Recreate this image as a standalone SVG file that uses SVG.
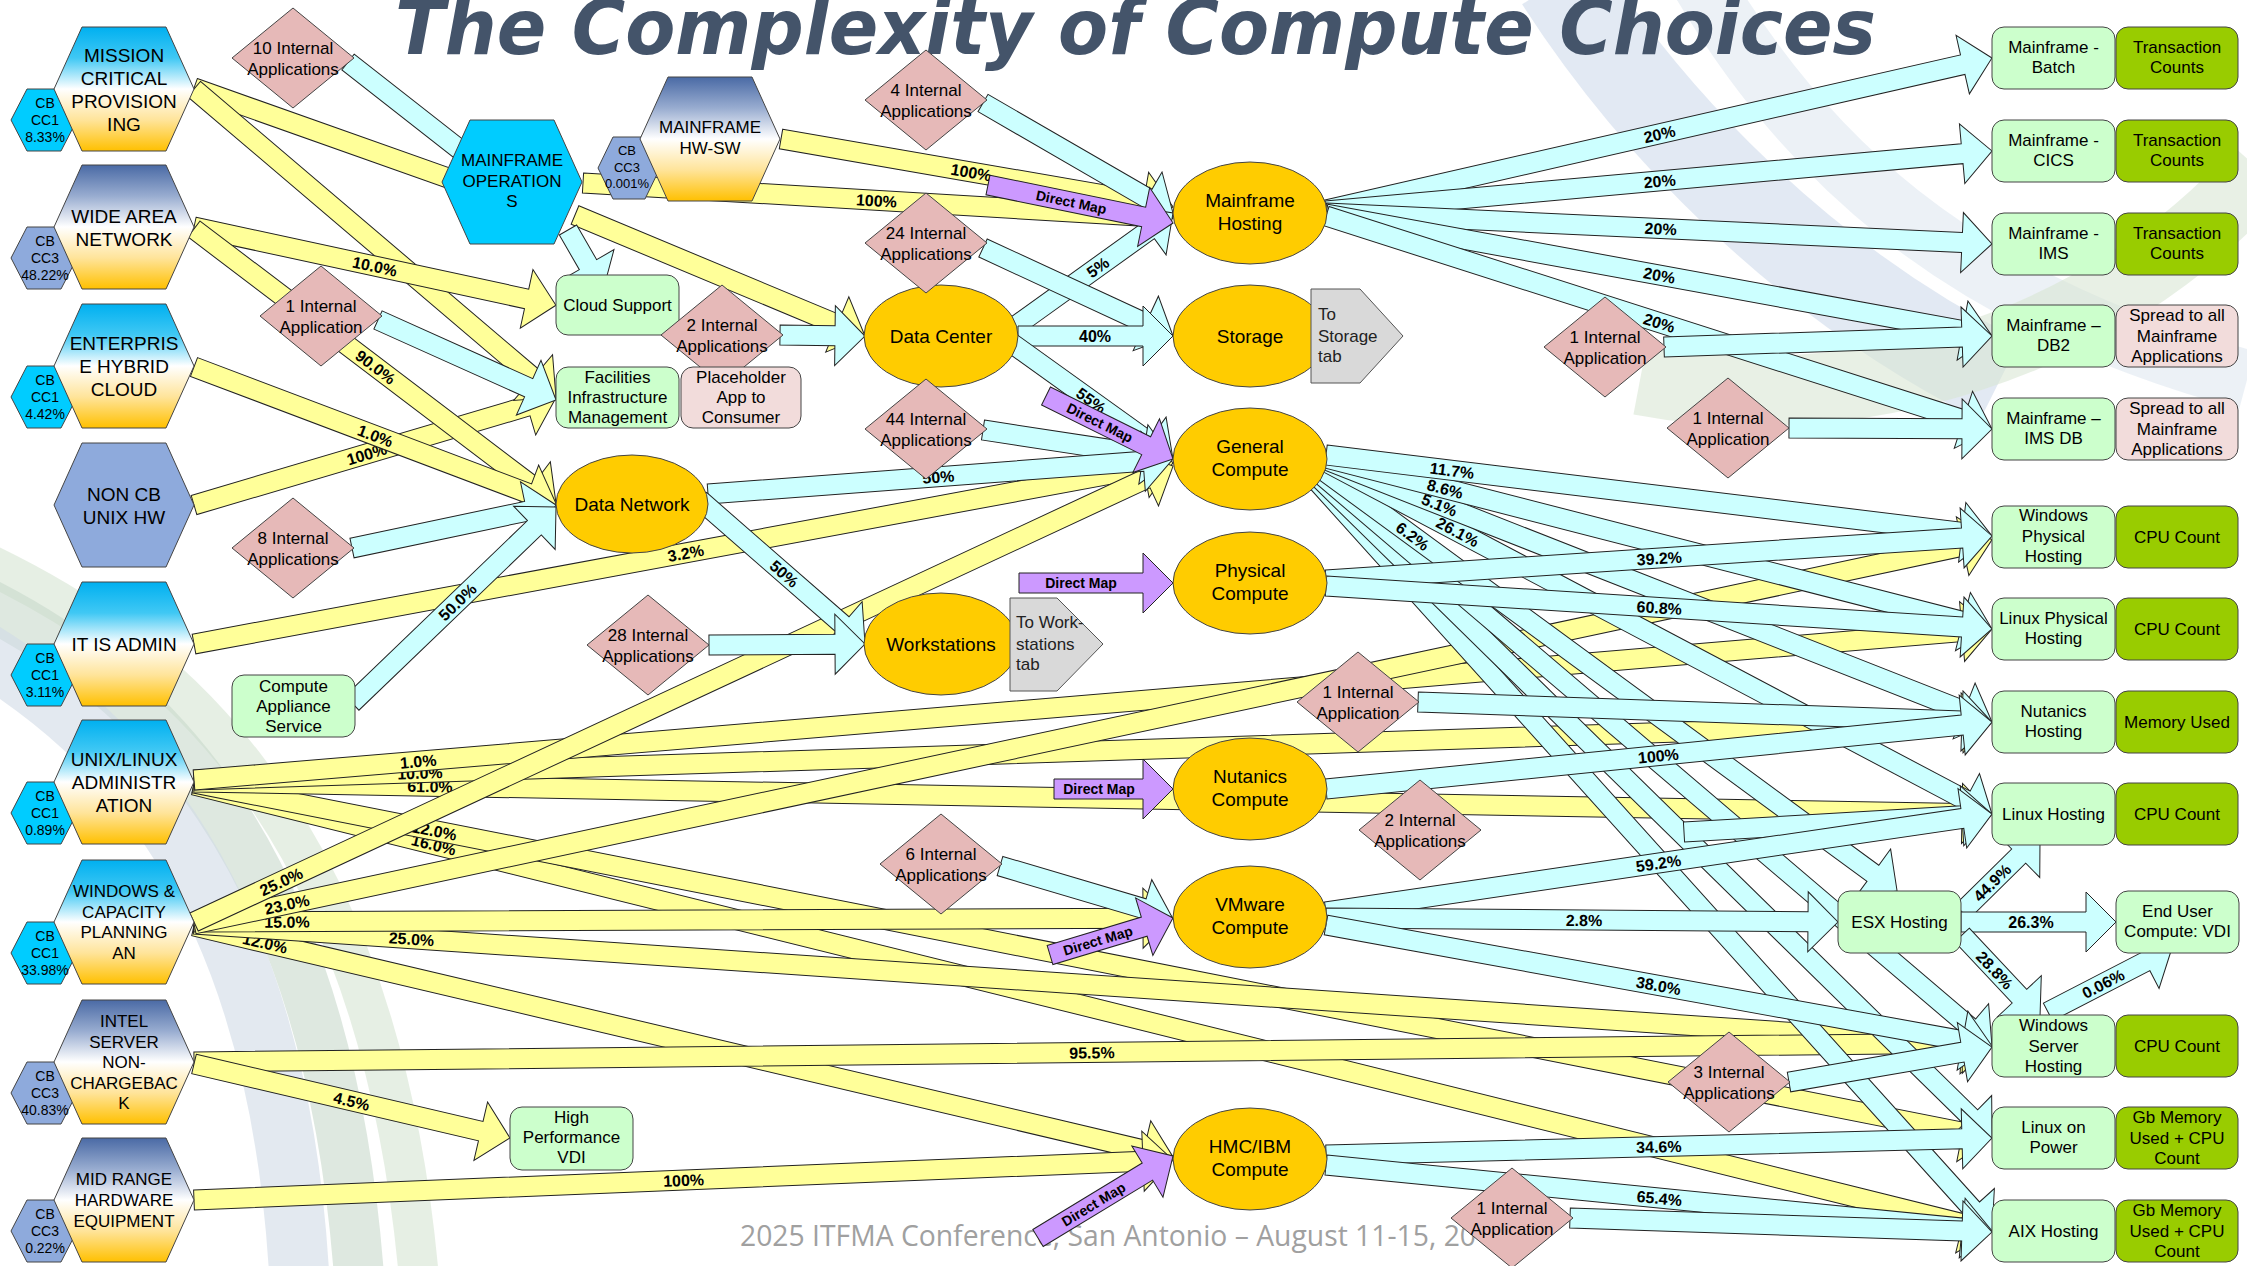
<svg xmlns="http://www.w3.org/2000/svg" width="2247" height="1266" viewBox="0 0 2247 1266">
<defs>
<style>
.y{fill:#ffff99;stroke:#222;stroke-width:1}
.c{fill:#ccffff;stroke:#222;stroke-width:1}
.p{fill:#cc99ff;stroke:#222;stroke-width:1}
text{font-family:"Liberation Sans",Arial,sans-serif;fill:#000}
.l{font-weight:bold;font-size:16px;text-anchor:middle}
.dm{font-weight:bold;font-size:14px;text-anchor:middle}
.t{font-size:17px;text-anchor:middle}
.t19{font-size:19px;text-anchor:middle}
.ts{font-size:14px;text-anchor:middle}
.tl{font-size:17px;fill:#222}
.dia{fill:#e6b9b8;stroke:#444}
.el{fill:#ffcc00;stroke:#444}
.bx{fill:#ccffcc;stroke:#444}
.bd{fill:#99cc00;stroke:#444}
.bp{fill:#f2dcdb;stroke:#444}
.tab{fill:#d9d9d9;stroke:#555}
.hx{stroke:#444}
.sw{fill:none}
</style>
<linearGradient id="gc" x1="0" y1="0" x2="0" y2="1">
<stop offset="0" stop-color="#00b0f0"/><stop offset="0.25" stop-color="#40c8f4"/><stop offset="0.5" stop-color="#ffffff"/><stop offset="0.75" stop-color="#ffe49a"/><stop offset="1" stop-color="#ffc000"/>
</linearGradient>
<linearGradient id="gs" x1="0" y1="0" x2="0" y2="1">
<stop offset="0" stop-color="#4a6aa5"/><stop offset="0.25" stop-color="#98acd0"/><stop offset="0.5" stop-color="#ffffff"/><stop offset="0.75" stop-color="#ffe49a"/><stop offset="1" stop-color="#ffc000"/>
</linearGradient>
<polygon id="hx" points="-70,0 -42,-62 42,-62 70,0 42,62 -42,62"/>
<polygon id="sh" points="-33,0 -17,-31 17,-31 33,0 17,31 -17,31"/>
<polygon id="dia" points="-61,0 0,-50 61,0 0,50"/>
</defs>
<rect width="2247" height="1266" fill="#ffffff"/>
<g id="background">
<path class="sw" d="M-20,560 C150,640 380,800 420,1290" stroke="#d6e4d2" stroke-width="40" opacity="0.6"/>
<path class="sw" d="M-20,600 C140,680 330,840 360,1290" stroke="#c8d8cc" stroke-width="50" opacity="0.6"/>
<path class="sw" d="M-20,650 C110,730 280,880 300,1290" stroke="#d0dbe6" stroke-width="60" opacity="0.6"/>
<path class="sw" d="M1560,-20 C1650,120 1800,280 2000,380" stroke="#c5d3e8" stroke-width="90" opacity="0.5"/>
<path class="sw" d="M1700,-20 C1800,150 1950,300 2247,380" stroke="#dfe7f0" stroke-width="60" opacity="0.6"/>
<path class="sw" d="M1640,380 C1850,420 2100,350 2260,170" stroke="#d9e6d3" stroke-width="70" opacity="0.6"/>
</g>
<text id="title" x="395" y="54" font-family="DejaVu Sans" font-weight="bold" font-style="italic" font-size="76" fill="#44546a" style="font-family:'DejaVu Sans',sans-serif;fill:#44546a" textLength="1481" lengthAdjust="spacingAndGlyphs">The Complexity of Compute Choices</text>
<text id="footer" x="740" y="1246" font-size="30" style="font-family:'Open Sans',sans-serif;fill:#a0a0a0" textLength="736" lengthAdjust="spacingAndGlyphs">2025 ITFMA Conference, San Antonio – August 11-15, 20</text>

<g id="connectors">
<!-- yellow -->
<g transform="translate(194 505) rotate(-16.5)"><path class="y" d="M0 -10H347.5V-30L377.5 0L347.5 30V10H0Z"/><text class="l" x="180" y="6">100%</text></g>
<g transform="translate(194 88) rotate(19.5)"><path class="y" d="M0 -10H305V-30L335 0L305 30V10H0Z"/></g>
<g transform="translate(194 89) rotate(40.4)"><path class="y" d="M0 -10H445.3V-30L475.3 0L445.3 30V10H0Z"/></g>
<g transform="translate(194 227) rotate(12.2)"><path class="y" d="M0 -10H340.3V-30L370.3 0L340.3 30V10H0Z"/><text class="l" x="185" y="6">10.0%</text></g>
<g transform="translate(194 229) rotate(37.2)"><path class="y" d="M0 -10H424.6V-30L454.6 0L424.6 30V10H0Z"/><text class="l" x="228" y="6">90.0%</text></g>
<g transform="translate(194 367) rotate(20.7)"><path class="y" d="M0 -10H357.1V-30L387.1 0L357.1 30V10H0Z"/><text class="l" x="194" y="6">1.0%</text></g>
<g transform="translate(194 644) rotate(-10.5)"><path class="y" d="M0 -10H965.8V-30L995.8 0L965.8 30V10H0Z"/><text class="l" x="500" y="6">3.2%</text></g>
<g transform="translate(194 785) rotate(13.93)"><path class="y" d="M0 -10H1822.5V-30L1852.5 0L1822.5 30V10H0Z"/><text class="l" x="247" y="6">16.0%</text></g>
<g transform="translate(194 783) rotate(11.17)"><path class="y" d="M0 -10H1802.7V-30L1832.7 0L1802.7 30V10H0Z"/><text class="l" x="245" y="6">12.0%</text></g>
<g transform="translate(194 782) rotate(1.02)"><path class="y" d="M0 -10H1768.3V-30L1798.3 0L1768.3 30V10H0Z"/><text class="l" x="236" y="6">61.0%</text></g>
<g transform="translate(194 780) rotate(-1.85)"><path class="y" d="M0 -10H1769V-30L1799 0L1769 30V10H0Z"/><text class="l" x="226" y="6">10.0%</text></g>
<g transform="translate(194 780) rotate(-4.8)"><path class="y" d="M0 -10H1774.3V-30L1804.3 0L1774.3 30V10H0Z"/><text class="l" x="225" y="6">1.0%</text></g>
<g transform="translate(194 926) rotate(13.27)"><path class="y" d="M0 -10H975.9V-30L1005.9 0L975.9 30V10H0Z"/><text class="l" x="73" y="6">12.0%</text></g>
<g transform="translate(194 924) rotate(3.88)"><path class="y" d="M0 -10H1772.1V-30L1802.1 0L1772.1 30V10H0Z"/><text class="l" x="218" y="6">25.0%</text></g>
<g transform="translate(194 922) rotate(-0.23)"><path class="y" d="M0 -10H949V-30L979 0L949 30V10H0Z"/><text class="l" x="93" y="6">15.0%</text></g>
<g transform="translate(194 924) rotate(-12.06)"><path class="y" d="M0 -10H1808.5V-30L1838.5 0L1808.5 30V10H0Z"/><text class="l" x="95" y="6">23.0%</text></g>
<g transform="translate(194 922) rotate(-24.97)"><path class="y" d="M0 -10H1050V-30L1080 0L1050 30V10H0Z"/><text class="l" x="96" y="6">25.0%</text></g>
<g transform="translate(194 1062) rotate(-0.61)"><path class="y" d="M0 -10H1768.1V-30L1798.1 0L1768.1 30V10H0Z"/><text class="l" x="898" y="6">95.5%</text></g>
<g transform="translate(194 1064) rotate(13.18)"><path class="y" d="M0 -10H294.5V-30L324.5 0L294.5 30V10H0Z"/><text class="l" x="162" y="6">4.5%</text></g>
<g transform="translate(194 1200) rotate(-2.34)"><path class="y" d="M0 -10H949.8V-30L979.8 0L949.8 30V10H0Z"/><text class="l" x="490" y="6">100%</text></g>
<g transform="translate(575 215) rotate(22.65)"><path class="y" d="M0 -10H284.2V-30L314.2 0L284.2 30V10H0Z"/></g>
<g transform="translate(583 183) rotate(3.39)"><path class="y" d="M0 -10H561V-30L591 0L561 30V10H0Z"/><text class="l" x="294" y="6">100%</text></g>
<g transform="translate(781 139) rotate(9.84)"><path class="y" d="M0 -10H367.9V-30L397.9 0L367.9 30V10H0Z"/><text class="l" x="193" y="6">100%</text></g>
<!-- cyan -->
<g transform="translate(348 62) rotate(38.1)"><path class="c" d="M0 -10H169.4V-30L199.4 0L169.4 30V10H0Z"/></g>
<g transform="translate(378 320) rotate(24.2)"><path class="c" d="M0 -10H165.2V-30L195.2 0L165.2 30V10H0Z"/></g>
<g transform="translate(568 230) rotate(60)"><path class="c" d="M0 -10H40V-30L70 0L40 30V10H0Z"/></g>
<g transform="translate(352 548) rotate(-11.9)"><path class="c" d="M0 -10H178.5V-30L208.5 0L178.5 30V10H0Z"/></g>
<g transform="translate(352 703) rotate(-43.85)"><path class="c" d="M0 -10H252.9V-30L282.9 0L252.9 30V10H0Z"/><text class="l" x="146" y="6">50.0%</text></g>
<g transform="translate(780 335) rotate(0.7)"><path class="c" d="M0 -10H55V-30L85 0L55 30V10H0Z"/></g>
<g transform="translate(983 103) rotate(30.07)"><path class="c" d="M0 -10H189.5V-30L219.5 0L189.5 30V10H0Z"/></g>
<g transform="translate(1010 330) rotate(-35.67)"><path class="c" d="M0 -10H170.6V-30L200.6 0L170.6 30V10H0Z"/><text class="l" x="108" y="6">5%</text></g>
<g transform="translate(983 248) rotate(24.85)"><path class="c" d="M0 -10H179.4V-30L209.4 0L179.4 30V10H0Z"/></g>
<g transform="translate(1018 336)"><path class="c" d="M0 -10H125V-30L155 0L125 30V10H0Z"/><text class="l" x="77" y="6">40%</text></g>
<g transform="translate(1010 342) rotate(35.67)"><path class="c" d="M0 -10H170.6V-30L200.6 0L170.6 30V10H0Z"/><text class="l" x="100" y="6">55%</text></g>
<g transform="translate(983 430) rotate(8.68)"><path class="c" d="M0 -10H162.2V-30L192.2 0L162.2 30V10H0Z"/></g>
<g transform="translate(708 494) rotate(-4.3)"><path class="c" d="M0 -10H436.3V-30L466.3 0L436.3 30V10H0Z"/><text class="l" x="231" y="6">50%</text></g>
<g transform="translate(700 500) rotate(41.1)"><path class="c" d="M0 -10H189V-30L219 0L189 30V10H0Z"/><text class="l" x="112" y="6">50%</text></g>
<g transform="translate(709 645) rotate(-0.37)"><path class="c" d="M0 -10H126V-30L156 0L126 30V10H0Z"/></g>
<g transform="translate(1326 210) rotate(-12.86)"><path class="c" d="M0 -10H653.1V-30L683.1 0L653.1 30V10H0Z"/><text class="l" x="342" y="6">20%</text></g>
<g transform="translate(1326 211) rotate(-5.15)"><path class="c" d="M0 -10H638.7V-30L668.7 0L638.7 30V10H0Z"/><text class="l" x="335" y="6">20%</text></g>
<g transform="translate(1326 213) rotate(2.66)"><path class="c" d="M0 -10H636.7V-30L666.7 0L636.7 30V10H0Z"/><text class="l" x="335" y="6">20%</text></g>
<g transform="translate(1326 214) rotate(10.38)"><path class="c" d="M0 -10H647.1V-30L677.1 0L647.1 30V10H0Z"/><text class="l" x="339" y="6">20%</text></g>
<g transform="translate(1326 216) rotate(17.73)"><path class="c" d="M0 -10H669.2V-30L699.2 0L669.2 30V10H0Z"/><text class="l" x="350" y="6">20%</text></g>
<g transform="translate(1664 347) rotate(-1.92)"><path class="c" d="M0 -10H298.2V-30L328.2 0L298.2 30V10H0Z"/></g>
<g transform="translate(1789 428) rotate(0.28)"><path class="c" d="M0 -10H173V-30L203 0L173 30V10H0Z"/></g>
<g transform="translate(1314 478) rotate(47.99)"><path class="c" d="M0 -10H983.3V-30L1013.3 0L983.3 30V10H0Z"/></g>
<g transform="translate(1316 475) rotate(44.44)"><path class="c" d="M0 -10H916.9V-30L946.9 0L916.9 30V10H0Z"/></g>
<g transform="translate(1318 472) rotate(40.42)"><path class="c" d="M0 -10H855.3V-30L885.3 0L855.3 30V10H0Z"/></g>
<g transform="translate(1320 468) rotate(36.24)"><path class="c" d="M0 -10H685.5V-30L715.5 0L685.5 30V10H0Z"/><text class="l" x="115" y="6">6.2%</text></g>
<g transform="translate(1326 462) rotate(27.86)"><path class="c" d="M0 -10H723.3V-30L753.3 0L723.3 30V10H0Z"/><text class="l" x="149" y="6">26.1%</text></g>
<g transform="translate(1326 460) rotate(21.47)"><path class="c" d="M0 -10H685.7V-30L715.7 0L685.7 30V10H0Z"/><text class="l" x="122" y="6">5.1%</text></g>
<g transform="translate(1326 458) rotate(14.4)"><path class="c" d="M0 -10H657.6V-30L687.6 0L657.6 30V10H0Z"/><text class="l" x="123" y="6">8.6%</text></g>
<g transform="translate(1326 455) rotate(6.93)"><path class="c" d="M0 -10H640.9V-30L670.9 0L640.9 30V10H0Z"/><text class="l" x="127" y="6">11.7%</text></g>
<g transform="translate(1326 580) rotate(-3.78)"><path class="c" d="M0 -10H637.5V-30L667.5 0L637.5 30V10H0Z"/><text class="l" x="334" y="6">39.2%</text></g>
<g transform="translate(1326 586) rotate(3.69)"><path class="c" d="M0 -10H637.4V-30L667.4 0L637.4 30V10H0Z"/><text class="l" x="334" y="6">60.8%</text></g>
<g transform="translate(1418 702) rotate(2.0)"><path class="c" d="M0 -10H544.3V-30L574.3 0L544.3 30V10H0Z"/></g>
<g transform="translate(1326 789) rotate(-5.74)"><path class="c" d="M0 -10H639.4V-30L669.4 0L639.4 30V10H0Z"/><text class="l" x="334" y="6">100%</text></g>
<g transform="translate(1684 832) rotate(-3.34)"><path class="c" d="M0 -10H278.5V-30L308.5 0L278.5 30V10H0Z"/></g>
<g transform="translate(1326 912) rotate(-8.37)"><path class="c" d="M0 -10H643.2V-30L673.2 0L643.2 30V10H0Z"/><text class="l" x="336" y="6">59.2%</text></g>
<g transform="translate(1326 918) rotate(0.45)"><path class="c" d="M0 -10H482V-30L512 0L482 30V10H0Z"/><text class="l" x="258" y="6">2.8%</text></g>
<g transform="translate(1326 925) rotate(10.3)"><path class="c" d="M0 -10H646.9V-30L676.9 0L646.9 30V10H0Z"/><text class="l" x="338" y="6">38.0%</text></g>
<g transform="translate(1962 912) rotate(-44.6)"><path class="c" d="M0 -10H79.6V-30L109.6 0L79.6 30V10H0Z"/><text class="l" x="42" y="6">44.9%</text></g>
<g transform="translate(1961 922)"><path class="c" d="M0 -10H125V-30L155 0L125 30V10H0Z"/><text class="l" x="70" y="6">26.3%</text></g>
<g transform="translate(1962 935) rotate(46.8)"><path class="c" d="M0 -10H83.9V-30L113.9 0L83.9 30V10H0Z"/><text class="l" x="48" y="6">28.8%</text></g>
<g transform="translate(2048 1012) rotate(-27.3)"><path class="c" d="M0 -10H109.5V-30L139.5 0L109.5 30V10H0Z"/><text class="l" x="62" y="6">0.06%</text></g>
<g transform="translate(1326 1155) rotate(-1.46)"><path class="c" d="M0 -10H636.2V-30L666.2 0L636.2 30V10H0Z"/><text class="l" x="333" y="6">34.6%</text></g>
<g transform="translate(1326 1165) rotate(5.66)"><path class="c" d="M0 -10H639.3V-30L669.3 0L639.3 30V10H0Z"/><text class="l" x="335" y="6">65.4%</text></g>
<g transform="translate(1570 1218) rotate(1.9)"><path class="c" d="M0 -10H392.2V-30L422.2 0L392.2 30V10H0Z"/></g>
<g transform="translate(1789 1082) rotate(-9.78)"><path class="c" d="M0 -10H176V-30L206 0L176 30V10H0Z"/></g>
<g transform="translate(1000 866) rotate(16.5)"><path class="c" d="M0 -10H149.4V-30L179.4 0L149.4 30V10H0Z"/></g>
<!-- purple -->
<g transform="translate(988 185) rotate(11.6)"><path class="p" d="M0 -10H158.9V-30L188.9 0L158.9 30V10H0Z"/><text class="dm" x="85" y="5">Direct Map</text></g>
<g transform="translate(1046 396) rotate(26.4)"><path class="p" d="M0 -10H111.8V-30L141.8 0L111.8 30V10H0Z"/><text class="dm" x="60" y="5">Direct Map</text></g>
<g transform="translate(1019 583)"><path class="p" d="M0 -10H124V-30L154 0L124 30V10H0Z"/><text class="dm" x="62" y="5">Direct Map</text></g>
<g transform="translate(1054 789)"><path class="p" d="M0 -10H89V-30L119 0L89 30V10H0Z"/><text class="dm" x="45" y="5">Direct Map</text></g>
<g transform="translate(1050 955) rotate(-16.74)"><path class="p" d="M0 -10H98.4V-30L128.4 0L98.4 30V10H0Z"/><text class="dm" x="50" y="5">Direct Map</text></g>
<g transform="translate(1038 1238) rotate(-31.27)"><path class="p" d="M0 -10H128V-30L158 0L128 30V10H0Z"/><text class="dm" x="65" y="5">Direct Map</text></g>
</g>

<!-- left hexagons -->
<g id="n-mission"><use href="#sh" x="44" y="120" fill="#00ccff" class="hx"/><use href="#hx" x="124" y="89" fill="url(#gc)" class="hx"/><text class="t19" x="124" y="61.5">MISSION</text><text class="t19" x="124" y="84.5">CRITICAL</text><text class="t19" x="124" y="107.5">PROVISION</text><text class="t19" x="124" y="130.5">ING</text><text class="ts" x="45" y="108">CB</text><text class="ts" x="45" y="125">CC1</text><text class="ts" x="45" y="142">8.33%</text></g>
<g id="n-wan"><use href="#sh" x="44" y="258" fill="#8eaadc" class="hx"/><use href="#hx" x="124" y="227" fill="url(#gs)" class="hx"/><text class="t19" x="124" y="222.5">WIDE AREA</text><text class="t19" x="124" y="245.5">NETWORK</text><text class="ts" x="45" y="246">CB</text><text class="ts" x="45" y="263">CC3</text><text class="ts" x="45" y="280">48.22%</text></g>
<g id="n-ehc"><use href="#sh" x="44" y="397" fill="#00ccff" class="hx"/><use href="#hx" x="124" y="366" fill="url(#gc)" class="hx"/><text class="t19" x="124" y="350">ENTERPRIS</text><text class="t19" x="124" y="373">E HYBRID</text><text class="t19" x="124" y="396">CLOUD</text><text class="ts" x="45" y="385">CB</text><text class="ts" x="45" y="402">CC1</text><text class="ts" x="45" y="419">4.42%</text></g>
<g id="n-noncb"><use href="#hx" x="124" y="505" fill="#8eaadc" class="hx"/><text class="t19" x="124" y="500.5">NON CB</text><text class="t19" x="124" y="523.5">UNIX HW</text></g>
<g id="n-itis"><use href="#sh" x="44" y="675" fill="#00ccff" class="hx"/><use href="#hx" x="124" y="644" fill="url(#gc)" class="hx"/><text class="t19" x="124" y="651">IT IS ADMIN</text><text class="ts" x="45" y="663">CB</text><text class="ts" x="45" y="680">CC1</text><text class="ts" x="45" y="697">3.11%</text></g>
<g id="n-unix"><use href="#sh" x="44" y="813" fill="#00ccff" class="hx"/><use href="#hx" x="124" y="782" fill="url(#gc)" class="hx"/><text class="t19" x="124" y="766">UNIX/LINUX</text><text class="t19" x="124" y="789">ADMINISTR</text><text class="t19" x="124" y="812">ATION</text><text class="ts" x="45" y="801">CB</text><text class="ts" x="45" y="818">CC1</text><text class="ts" x="45" y="835">0.89%</text></g>
<g id="n-windows"><use href="#sh" x="44" y="953" fill="#00ccff" class="hx"/><use href="#hx" x="124" y="922" fill="url(#gc)" class="hx"/><text class="t" x="124" y="897">WINDOWS &amp;</text><text class="t" x="124" y="917.5">CAPACITY</text><text class="t" x="124" y="938">PLANNING</text><text class="t" x="124" y="958.5">AN</text><text class="ts" x="45" y="941">CB</text><text class="ts" x="45" y="958">CC1</text><text class="ts" x="45" y="975">33.98%</text></g>
<g id="n-intel"><use href="#sh" x="44" y="1093" fill="#8eaadc" class="hx"/><use href="#hx" x="124" y="1062" fill="url(#gs)" class="hx"/><text class="t" x="124" y="1027">INTEL</text><text class="t" x="124" y="1047.5">SERVER</text><text class="t" x="124" y="1068">NON-</text><text class="t" x="124" y="1088.5">CHARGEBAC</text><text class="t" x="124" y="1109">K</text><text class="ts" x="45" y="1081">CB</text><text class="ts" x="45" y="1098">CC3</text><text class="ts" x="45" y="1115">40.83%</text></g>
<g id="n-midrange"><use href="#sh" x="44" y="1231" fill="#8eaadc" class="hx"/><use href="#hx" x="124" y="1200" fill="url(#gs)" class="hx"/><text class="t" x="124" y="1185">MID RANGE</text><text class="t" x="124" y="1206">HARDWARE</text><text class="t" x="124" y="1227">EQUIPMENT</text><text class="ts" x="45" y="1219">CB</text><text class="ts" x="45" y="1236">CC3</text><text class="ts" x="45" y="1253">0.22%</text></g>
<g id="n-mfops"><use href="#hx" x="512" y="182" fill="#00ccff" class="hx"/><text class="t" x="512" y="166">MAINFRAME</text><text class="t" x="512" y="187">OPERATION</text><text class="t" x="512" y="207">S</text></g>
<g id="n-hwsw"><polygon class="hx" fill="#8eaadc" points="598,168 613,137 645,137 660,168 645,199 613,199"/><use href="#hx" x="710" y="139" fill="url(#gs)" class="hx"/><text class="t" x="710" y="133">MAINFRAME</text><text class="t" x="710" y="154">HW-SW</text><text class="ts" x="627" y="155" style="font-size:13px">CB</text><text class="ts" x="627" y="172" style="font-size:13px">CC3</text><text class="ts" x="627" y="188" style="font-size:13px">0.001%</text></g>

<!-- ellipses -->
<g id="n-mfhost"><ellipse class="el" cx="1250" cy="213" rx="77" ry="51"/><text class="t19" x="1250" y="207">Mainframe</text><text class="t19" x="1250" y="230">Hosting</text></g>
<g id="n-storage"><ellipse class="el" cx="1250" cy="336" rx="77" ry="51"/><text class="t19" x="1250" y="343">Storage</text></g>
<g id="n-datacenter"><ellipse class="el" cx="941" cy="336" rx="77" ry="51"/><text class="t19" x="941" y="343">Data Center</text></g>
<g id="n-general"><ellipse class="el" cx="1250" cy="459" rx="77" ry="51"/><text class="t19" x="1250" y="453">General</text><text class="t19" x="1250" y="476">Compute</text></g>
<g id="n-physical"><ellipse class="el" cx="1250" cy="583" rx="77" ry="51"/><text class="t19" x="1250" y="577">Physical</text><text class="t19" x="1250" y="600">Compute</text></g>
<g id="n-workstations"><ellipse class="el" cx="941" cy="644" rx="77" ry="51"/><text class="t19" x="941" y="651">Workstations</text></g>
<g id="n-nutanics"><ellipse class="el" cx="1250" cy="789" rx="77" ry="51"/><text class="t19" x="1250" y="783">Nutanics</text><text class="t19" x="1250" y="806">Compute</text></g>
<g id="n-vmware"><ellipse class="el" cx="1250" cy="917" rx="77" ry="51"/><text class="t19" x="1250" y="911">VMware</text><text class="t19" x="1250" y="934">Compute</text></g>
<g id="n-hmc"><ellipse class="el" cx="1250" cy="1159" rx="77" ry="51"/><text class="t19" x="1250" y="1153">HMC/IBM</text><text class="t19" x="1250" y="1176">Compute</text></g>
<g id="n-datanetwork"><ellipse class="el" cx="632" cy="504" rx="76" ry="49"/><text class="t19" x="632" y="511">Data Network</text></g>

<!-- tabs -->
<g id="n-storagetab"><polygon class="tab" points="1311,289 1360,289 1403,336 1360,383 1311,383"/><text class="tl" x="1318" y="320">To</text><text class="tl" x="1318" y="342">Storage</text><text class="tl" x="1318" y="362">tab</text></g>
<g id="n-wstab"><polygon class="tab" points="1010,598 1057,598 1103,644 1057,691 1010,691"/><text class="tl" x="1016" y="628">To Work-</text><text class="tl" x="1016" y="650">stations</text><text class="tl" x="1016" y="670">tab</text></g>

<!-- diamonds -->
<g id="n-d10"><use href="#dia" x="293" y="58" class="dia"/><text class="t" x="293" y="54">10 Internal</text><text class="t" x="293" y="75">Applications</text></g>
<g id="n-d1a"><use href="#dia" x="321" y="316" class="dia"/><text class="t" x="321" y="312">1 Internal</text><text class="t" x="321" y="333">Application</text></g>
<g id="n-d8"><use href="#dia" x="293" y="548" class="dia"/><text class="t" x="293" y="544">8 Internal</text><text class="t" x="293" y="565">Applications</text></g>
<g id="n-d28"><use href="#dia" x="648" y="645" class="dia"/><text class="t" x="648" y="641">28 Internal</text><text class="t" x="648" y="662">Applications</text></g>
<g id="n-d4"><use href="#dia" x="926" y="100" class="dia"/><text class="t" x="926" y="96">4 Internal</text><text class="t" x="926" y="117">Applications</text></g>
<g id="n-d24"><use href="#dia" x="926" y="243" class="dia"/><text class="t" x="926" y="239">24 Internal</text><text class="t" x="926" y="260">Applications</text></g>
<g id="n-d44"><use href="#dia" x="926" y="429" class="dia"/><text class="t" x="926" y="425">44 Internal</text><text class="t" x="926" y="446">Applications</text></g>
<g id="n-d1b"><use href="#dia" x="1358" y="702" class="dia"/><text class="t" x="1358" y="698">1 Internal</text><text class="t" x="1358" y="719">Application</text></g>
<g id="n-d2b"><use href="#dia" x="1420" y="830" class="dia"/><text class="t" x="1420" y="826">2 Internal</text><text class="t" x="1420" y="847">Applications</text></g>
<g id="n-d6"><use href="#dia" x="941" y="864" class="dia"/><text class="t" x="941" y="860">6 Internal</text><text class="t" x="941" y="881">Applications</text></g>
<g id="n-d1c"><use href="#dia" x="1512" y="1218" class="dia"/><text class="t" x="1512" y="1214">1 Internal</text><text class="t" x="1512" y="1235">Application</text></g>
<g id="n-d3"><use href="#dia" x="1729" y="1082" class="dia"/><text class="t" x="1729" y="1078">3 Internal</text><text class="t" x="1729" y="1099">Applications</text></g>
<g id="n-d1d"><use href="#dia" x="1605" y="347" class="dia"/><text class="t" x="1605" y="343">1 Internal</text><text class="t" x="1605" y="364">Application</text></g>
<g id="n-d1e"><use href="#dia" x="1728" y="428" class="dia"/><text class="t" x="1728" y="424">1 Internal</text><text class="t" x="1728" y="445">Application</text></g>

<!-- left / middle boxes -->
<g id="n-cloud"><rect class="bx" x="556" y="275" width="123" height="60" rx="12"/><text class="t" x="617.5" y="311">Cloud Support</text></g>
<g id="n-d2a"><use href="#dia" x="722" y="335" class="dia"/><text class="t" x="722" y="331">2 Internal</text><text class="t" x="722" y="352">Applications</text></g>
<g id="n-facilities"><rect class="bx" x="556" y="367" width="123" height="61" rx="12"/><text class="t" x="617.5" y="383">Facilities</text><text class="t" x="617.5" y="403">Infrastructure</text><text class="t" x="617.5" y="423">Management</text></g>
<g id="n-placeholder"><rect class="bp" x="681" y="367" width="120" height="61" rx="12"/><text class="t" x="741" y="383">Placeholder</text><text class="t" x="741" y="403">App to</text><text class="t" x="741" y="423">Consumer</text></g>
<g id="n-cas"><rect class="bx" x="232" y="675" width="123" height="62" rx="12"/><text class="t" x="293.5" y="692">Compute</text><text class="t" x="293.5" y="712">Appliance</text><text class="t" x="293.5" y="732">Service</text></g>
<g id="n-hpvdi"><rect class="bx" x="510" y="1107" width="123" height="63" rx="12"/><text class="t" x="571.5" y="1123">High</text><text class="t" x="571.5" y="1143">Performance</text><text class="t" x="571.5" y="1163">VDI</text></g>

<!-- right boxes -->
<g id="n-mfbatch"><rect class="bx" x="1992" y="27" width="123" height="62" rx="12"/><text class="t" x="2053.5" y="53">Mainframe -</text><text class="t" x="2053.5" y="73">Batch</text><rect class="bd" x="2116" y="27" width="122" height="62" rx="12"/><text class="t" x="2177" y="53">Transaction</text><text class="t" x="2177" y="73">Counts</text></g>
<g id="n-mfcics"><rect class="bx" x="1992" y="120" width="123" height="62" rx="12"/><text class="t" x="2053.5" y="146">Mainframe -</text><text class="t" x="2053.5" y="166">CICS</text><rect class="bd" x="2116" y="120" width="122" height="62" rx="12"/><text class="t" x="2177" y="146">Transaction</text><text class="t" x="2177" y="166">Counts</text></g>
<g id="n-mfims"><rect class="bx" x="1992" y="213" width="123" height="62" rx="12"/><text class="t" x="2053.5" y="239">Mainframe -</text><text class="t" x="2053.5" y="259">IMS</text><rect class="bd" x="2116" y="213" width="122" height="62" rx="12"/><text class="t" x="2177" y="239">Transaction</text><text class="t" x="2177" y="259">Counts</text></g>
<g id="n-mfdb2"><rect class="bx" x="1992" y="305" width="123" height="62" rx="12"/><text class="t" x="2053.5" y="331">Mainframe –</text><text class="t" x="2053.5" y="351">DB2</text><rect class="bp" x="2116" y="305" width="122" height="62" rx="12"/><text class="t" x="2177" y="321">Spread to all</text><text class="t" x="2177" y="342">Mainframe</text><text class="t" x="2177" y="362">Applications</text></g>
<g id="n-mfimsdb"><rect class="bx" x="1992" y="398" width="123" height="62" rx="12"/><text class="t" x="2053.5" y="424">Mainframe –</text><text class="t" x="2053.5" y="444">IMS DB</text><rect class="bp" x="2116" y="398" width="122" height="62" rx="12"/><text class="t" x="2177" y="414">Spread to all</text><text class="t" x="2177" y="435">Mainframe</text><text class="t" x="2177" y="455">Applications</text></g>
<g id="n-winphys"><rect class="bx" x="1992" y="506" width="123" height="62" rx="12"/><text class="t" x="2053.5" y="521">Windows</text><text class="t" x="2053.5" y="542">Physical</text><text class="t" x="2053.5" y="562">Hosting</text><rect class="bd" x="2116" y="506" width="122" height="62" rx="12"/><text class="t" x="2177" y="543">CPU Count</text></g>
<g id="n-linphys"><rect class="bx" x="1992" y="598" width="123" height="62" rx="12"/><text class="t" x="2053.5" y="624">Linux Physical</text><text class="t" x="2053.5" y="644">Hosting</text><rect class="bd" x="2116" y="598" width="122" height="62" rx="12"/><text class="t" x="2177" y="635">CPU Count</text></g>
<g id="n-nuthost"><rect class="bx" x="1992" y="691" width="123" height="62" rx="12"/><text class="t" x="2053.5" y="717">Nutanics</text><text class="t" x="2053.5" y="737">Hosting</text><rect class="bd" x="2116" y="691" width="122" height="62" rx="12"/><text class="t" x="2177" y="728">Memory Used</text></g>
<g id="n-linhost"><rect class="bx" x="1992" y="783" width="123" height="62" rx="12"/><text class="t" x="2053.5" y="820">Linux Hosting</text><rect class="bd" x="2116" y="783" width="122" height="62" rx="12"/><text class="t" x="2177" y="820">CPU Count</text></g>
<g id="n-esx"><rect class="bx" x="1838" y="891" width="123" height="62" rx="12"/><text class="t" x="1899.5" y="928">ESX Hosting</text></g>
<g id="n-euvdi"><rect class="bx" x="2116" y="891" width="123" height="62" rx="12"/><text class="t" x="2177.5" y="917">End User</text><text class="t" x="2177.5" y="937">Compute: VDI</text></g>
<g id="n-winserver"><rect class="bx" x="1992" y="1015" width="123" height="62" rx="12"/><text class="t" x="2053.5" y="1031">Windows</text><text class="t" x="2053.5" y="1052">Server</text><text class="t" x="2053.5" y="1072">Hosting</text><rect class="bd" x="2116" y="1015" width="122" height="62" rx="12"/><text class="t" x="2177" y="1052">CPU Count</text></g>
<g id="n-linpower"><rect class="bx" x="1992" y="1107" width="123" height="62" rx="12"/><text class="t" x="2053.5" y="1133">Linux on</text><text class="t" x="2053.5" y="1153">Power</text><rect class="bd" x="2116" y="1107" width="122" height="62" rx="12"/><text class="t" x="2177" y="1123">Gb Memory</text><text class="t" x="2177" y="1144">Used + CPU</text><text class="t" x="2177" y="1164">Count</text></g>
<g id="n-aix"><rect class="bx" x="1992" y="1200" width="123" height="62" rx="12"/><text class="t" x="2053.5" y="1237">AIX Hosting</text><rect class="bd" x="2116" y="1200" width="122" height="62" rx="12"/><text class="t" x="2177" y="1216">Gb Memory</text><text class="t" x="2177" y="1237">Used + CPU</text><text class="t" x="2177" y="1257">Count</text></g>
</svg>
